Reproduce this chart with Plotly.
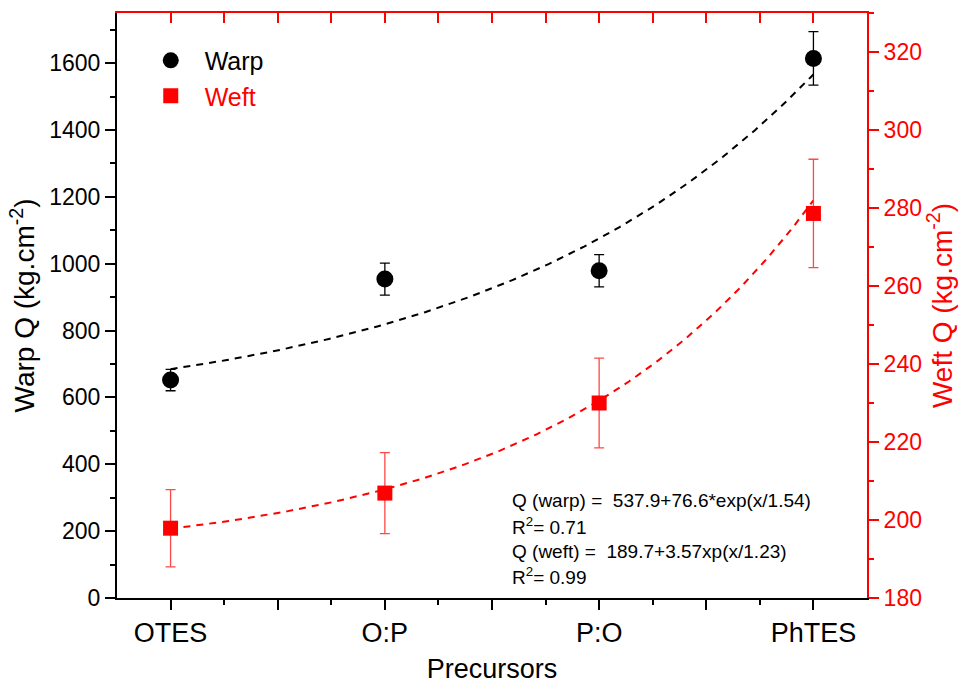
import numpy as np
import plotly.graph_objects as go

# ---- data ----
categories = ["OTES", "O:P", "P:O", "PhTES"]
x_pos = [1, 2, 3, 4]
warp_q = [652, 954, 979, 1614]
warp_err = [32, 48, 48, 80]
weft_q = [197.9, 206.9, 230.0, 278.6]
weft_err = [9.9, 10.4, 11.5, 13.9]

# fit parameters shown in the chart
warp_fit = (537.9, 76.6, 1.54)
weft_fit = (189.7, 3.57, 1.23)

xf = np.linspace(1, 4, 200)
warp_curve = warp_fit[0] + warp_fit[1] * np.exp(xf / warp_fit[2])
weft_curve = weft_fit[0] + weft_fit[1] * np.exp(xf / weft_fit[2])

FONT = "Liberation Sans, Arial, sans-serif"
RED = "#ff0000"

fig = go.Figure()

fig.add_trace(go.Scatter(x=xf, y=warp_curve, mode="lines", showlegend=False,
                         line=dict(color="black", width=2, dash="7px,6px"), hoverinfo="skip"))
fig.add_trace(go.Scatter(x=xf, y=weft_curve, mode="lines", showlegend=False, yaxis="y2",
                         line=dict(color=RED, width=2, dash="7px,6px"), hoverinfo="skip"))

fig.add_trace(go.Scatter(x=x_pos, y=warp_q, mode="markers", name="&nbsp;&nbsp;Warp",
                         marker=dict(symbol="circle", size=17, color="black"),
                         error_y=dict(type="data", array=warp_err, color="black", thickness=1.3, width=5)))
fig.add_trace(go.Scatter(x=x_pos, y=weft_q, mode="markers",
                         name="&nbsp;&nbsp;<span style='color:#ff0000'>Weft</span>", yaxis="y2",
                         marker=dict(symbol="square", size=15, color=RED),
                         error_y=dict(type="data", array=weft_err, color="rgba(255,40,40,0.85)", thickness=1.3, width=5)))

# top axis carrier (invisible trace)
fig.add_trace(go.Scatter(x=[1], y=[0], xaxis="x2", mode="markers", marker=dict(opacity=0),
                         showlegend=False, hoverinfo="skip"))

tickvals = [1, 1.5, 2, 2.5, 3, 3.5, 4]
ticktext = [categories[0], "", categories[1], "", categories[2], "", categories[3]]

fig.update_layout(
    width=963, height=684,
    margin=dict(l=117, r=96, t=13, b=86),
    plot_bgcolor="white", paper_bgcolor="white",
    font=dict(family=FONT, color="black"),
    xaxis=dict(range=[0.75, 4.25], tickvals=tickvals, ticktext=ticktext, automargin=False,
               showline=True, linecolor="black", linewidth=2, showgrid=False, zeroline=False,
               ticks="outside", ticklen=10, tickwidth=1.5, tickcolor="black",
               minor=dict(tickvals=[1.25, 1.75, 2.25, 2.75, 3.25, 3.75], ticks="outside", ticklen=5, tickwidth=1.5, tickcolor="black"),
               tickfont=dict(size=27), title=dict(text="Precursors", font=dict(size=27), standoff=12)),
    xaxis2=dict(overlaying="x", side="top", range=[0.75, 4.25], automargin=False,
                tickvals=[1, 1.25, 1.5, 1.75, 2, 2.25, 2.5, 2.75, 3, 3.25, 3.5, 3.75, 4],
                showticklabels=False, showline=True, linecolor=RED, linewidth=2, showgrid=False, zeroline=False,
                ticks="inside", ticklen=10, tickwidth=1.5, tickcolor=RED),
    yaxis=dict(range=[0, 1750], dtick=200, tick0=0, showline=True, linecolor="black", linewidth=2, automargin=False,
               showgrid=False, zeroline=False, ticks="outside", ticklen=10, tickwidth=1.5, tickcolor="black",
               minor=dict(dtick=100, ticks="outside", ticklen=5, tickwidth=1.5, tickcolor="black"),
               tickfont=dict(size=23),
               title=dict(text="Warp Q (kg.cm<sup>-2</sup>)", font=dict(size=28), standoff=6)),
    yaxis2=dict(overlaying="y", side="right", range=[180, 330], dtick=20, tick0=180, automargin=False,
                showline=True, linecolor=RED, linewidth=2, showgrid=False, zeroline=False,
                ticks="outside", ticklen=10, tickwidth=1.5, tickcolor=RED,
                minor=dict(dtick=10, ticks="outside", ticklen=5, tickwidth=1.5, tickcolor=RED),
                tickfont=dict(size=23, color=RED),
                title=dict(text="Weft Q (kg.cm<sup>-2</sup>)", font=dict(size=28, color=RED), standoff=10)),
    legend=dict(x=0.045, y=0.958, xanchor="left", yanchor="top", bgcolor="rgba(0,0,0,0)",
                font=dict(size=25), itemsizing="trace", tracegroupgap=0),
    showlegend=True,
)

ann_lines = [
    ("Q (warp) =  537.9+76.6*exp(x/1.54)", 500),
    ("R<sup>2</sup>= 0.71", 526),
    ("Q (weft) =  189.7+3.57xp(x/1.23)", 551),
    ("R<sup>2</sup>= 0.99", 576),
]
for txt, ypix in ann_lines:
    fig.add_annotation(text=txt, xref="paper", yref="paper",
                       x=(510 - 117) / 750, y=(598 - ypix) / 585,
                       xanchor="left", yanchor="middle", showarrow=False,
                       font=dict(size=19, color="black", family=FONT))

fig.write_html("out.html")
